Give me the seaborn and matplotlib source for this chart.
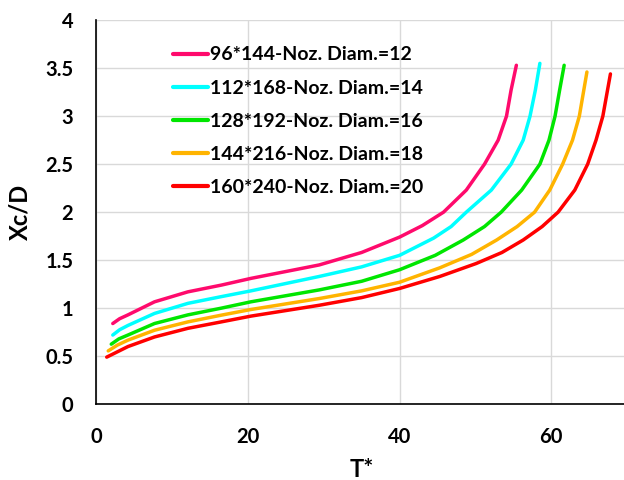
import matplotlib
matplotlib.use("Agg")
import matplotlib.pyplot as plt
from matplotlib.ticker import MultipleLocator
import seaborn as sns
import pandas as pd

# curve data
labels = [
    "96*144-Noz. Diam.=12",
    "112*168-Noz. Diam.=14",
    "128*192-Noz. Diam.=16",
    "144*216-Noz. Diam.=18",
    "160*240-Noz. Diam.=20",
]
colors = ["#ff0a6c", "#00ffff", "#00e600", "#ffb400", "#ff0000"]

t_d12 = [2.2, 3.1, 4.2, 7.7, 12.1, 16.5, 20.4, 29.4, 35, 40, 43, 45.8, 48.8, 51.2, 53.0, 54.1, 54.7, 55.4]
x_d12 = [0.84, 0.89, 0.93, 1.066, 1.17, 1.24, 1.31, 1.45, 1.58, 1.74, 1.86, 2.0, 2.23, 2.5, 2.75, 3.0, 3.27, 3.53]

t_d14 = [2.2, 3.1, 4.2, 7.7, 12.1, 16.5, 20.4, 29.4, 35, 40, 44.5, 46.8, 48.8, 52.1, 54.7, 56.3, 57.2, 57.9, 58.5]
x_d14 = [0.72, 0.775, 0.82, 0.945, 1.05, 1.12, 1.18, 1.33, 1.43, 1.55, 1.73, 1.85, 2.0, 2.23, 2.5, 2.75, 3.0, 3.27, 3.55]

t_d16 = [2.0, 3.0, 4.2, 7.7, 12.1, 16.5, 20.4, 29.4, 35, 40, 44.7, 48.4, 51.2, 53.4, 56.1, 58.5, 59.7, 60.5, 61.1, 61.7]
x_d16 = [0.625, 0.68, 0.72, 0.84, 0.93, 1.0, 1.066, 1.19, 1.28, 1.40, 1.55, 1.71, 1.85, 2.0, 2.23, 2.5, 2.75, 3.0, 3.27, 3.53]

t_d18 = [1.6, 2.8, 4.2, 7.7, 12.1, 16.5, 20.4, 29.4, 35, 40, 45.3, 49.5, 52.8, 55.5, 57.8, 59.8, 61.5, 62.8, 63.7, 64.2, 64.7]
x_d18 = [0.555, 0.615, 0.667, 0.77, 0.857, 0.927, 0.986, 1.10, 1.18, 1.27, 1.42, 1.56, 1.71, 1.85, 2.0, 2.23, 2.5, 2.75, 3.0, 3.23, 3.46]

t_d20 = [1.4, 2.8, 4.2, 7.7, 12.1, 16.5, 20.4, 29.4, 35, 40, 45.3, 50.1, 53.5, 56.3, 58.8, 60.9, 63.1, 64.8, 65.9, 66.8, 67.3, 67.8]
x_d20 = [0.49, 0.545, 0.60, 0.70, 0.79, 0.857, 0.917, 1.03, 1.11, 1.205, 1.33, 1.465, 1.58, 1.71, 1.85, 2.0, 2.23, 2.5, 2.75, 3.0, 3.22, 3.44]

series = [(t_d12, x_d12), (t_d14, x_d14), (t_d16, x_d16), (t_d18, x_d18), (t_d20, x_d20)]
frames = []
for lab, (t, x) in zip(labels, series):
    frames.append(pd.DataFrame({"T*": t, "Xc/D": x, "case": lab}))
df = pd.concat(frames, ignore_index=True)

sns.set_style("white")
plt.rcParams["font.family"] = ["Lato", "DejaVu Sans"]
plt.rcParams["text.color"] = "black"
plt.rcParams["axes.labelcolor"] = "black"
plt.rcParams["xtick.labelcolor"] = "black"
plt.rcParams["ytick.labelcolor"] = "black"

fig = plt.figure(figsize=(6.24, 4.8), dpi=100)
ax = fig.add_axes([0.154, 0.158, 0.851, 0.8])

sns.lineplot(data=df, x="T*", y="Xc/D", hue="case", hue_order=labels,
             palette=colors, sort=False, estimator=None, linewidth=2.5, ax=ax)

ax.set_xlim(0, 70)
ax.set_ylim(0, 4)
ax.xaxis.set_major_locator(MultipleLocator(20))
ax.xaxis.set_minor_locator(MultipleLocator(4))
ax.yaxis.set_minor_locator(MultipleLocator(0.1))
ax.set_yticks([0, 0.5, 1, 1.5, 2, 2.5, 3, 3.5, 4])
ax.set_yticklabels(["0", "0.5", "1", "1.5", "2", "2.5", "3", "3.5", "4"])
ax.grid(True, which="major", color="#d9d9d9", linewidth=1.0)
ax.set_axisbelow(True)

for side in ["top", "right"]:
    ax.spines[side].set_visible(False)
for side in ["left", "bottom"]:
    ax.spines[side].set_color("black")
    ax.spines[side].set_linewidth(1.2)

ax.tick_params(which="major", direction="out", length=6.5, width=1.0, color="#333333",
               labelsize=14.5, labelcolor="black", pad=10)
ax.tick_params(which="minor", direction="out", length=4.3, width=1.0, color="#333333")
for lbl in ax.get_xticklabels() + ax.get_yticklabels():
    lbl.set_fontweight("bold")

ax.set_xlabel("T*", fontsize=17, fontweight="bold", labelpad=8, color="black")
ax.set_ylabel("Xc/D", fontsize=17, fontweight="bold", labelpad=9.5, color="black")

leg = ax.legend(loc="upper left", bbox_to_anchor=(0.112, 0.977), frameon=False,
                prop={"size": 14, "weight": "bold"}, handlelength=1.8,
                handletextpad=0.12, labelspacing=0.83, labelcolor="black")
for line in leg.get_lines():
    line.set_linewidth(3)

fig.savefig("out.png", dpi=100)
